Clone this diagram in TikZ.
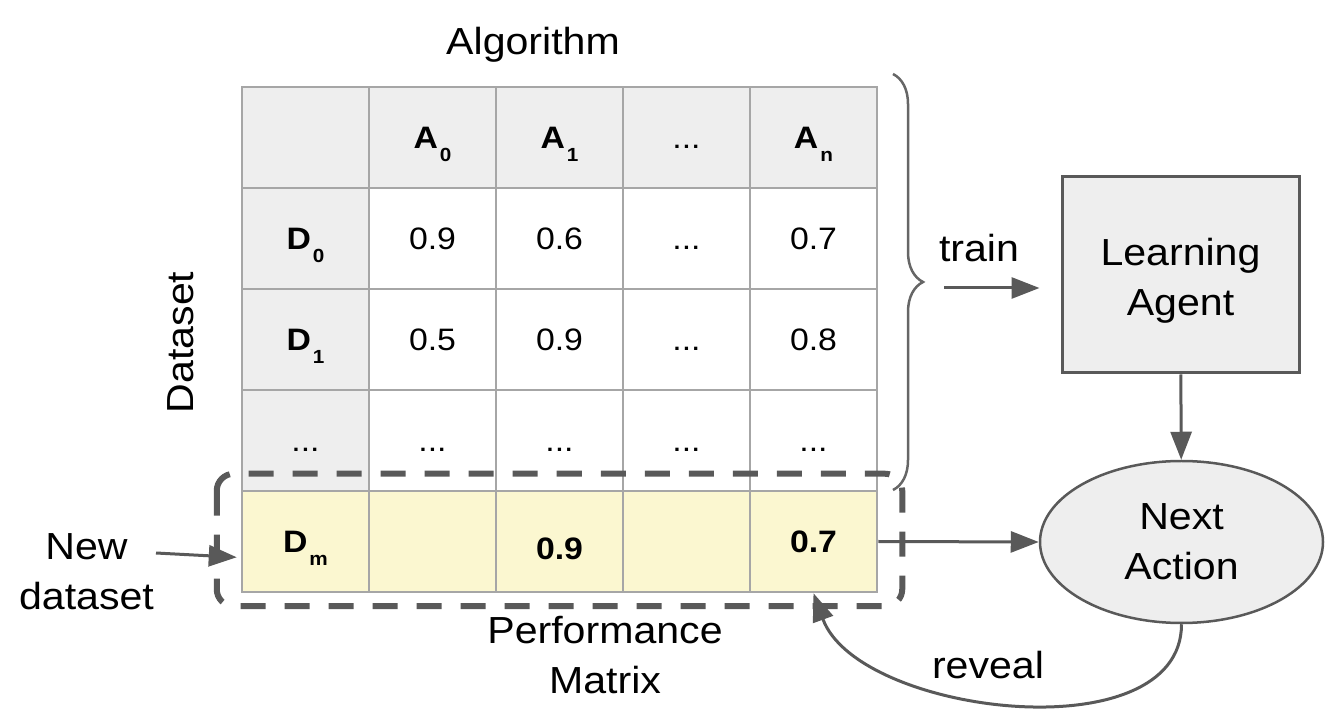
\documentclass[tikz,border=0pt]{standalone}
\usepackage{fontspec}
\setmainfont{Liberation Sans}[FakeStretch=1.09]
\usepackage{tikz}
\usetikzlibrary{arrows.meta,shapes.geometric,positioning,decorations.pathreplacing}
\definecolor{pmgray}{RGB}{238,238,238}
\definecolor{pmyellow}{RGB}{251,247,208}
\definecolor{pmgrid}{RGB}{166,166,166}
\definecolor{pmdark}{RGB}{89,89,89}
\definecolor{pmbrace}{RGB}{102,102,102}
\tikzstyle{arrow} = [line width=3pt,-{Triangle[length=28pt,width=21pt]},color=pmdark]
\tikzstyle{cell} = [draw=pmgrid,line width=2.5pt,minimum width=127pt,minimum height=101pt,inner sep=0pt,text height=22pt,text depth=0pt,font=\fontsize{31}{31}\selectfont]
\tikzstyle{lbl} = [font=\fontsize{37.7}{50}\selectfont,align=center,inner sep=0pt]
\newcommand{\sublabel}[2]{\textbf{#1}\kern2pt\raisebox{-13pt}[0pt][0pt]{\fontsize{19}{19}\selectfont\textbf{#2}}}
\newcommand{\ddd}{...}

\begin{document}
\begin{tikzpicture}[x=1pt,y=1pt]
\useasboundingbox (0,0) rectangle (1336,715);

% Shading
\fill[pmgray] (242,628) rectangle (877,527);
\fill[pmgray] (242,628) rectangle (369,224);
\fill[pmyellow] (242,224) rectangle (877,123);

% Table
\foreach \t [count=\c from 0] in {{}, \sublabel{A}{0}, \sublabel{A}{1}, \ddd, \sublabel{A}{n}}
  \node[cell] (hd-\c) at ({305.5+127*\c},577.5) {\t};
\foreach \t [count=\c from 0] in {\sublabel{D}{0}, 0.9, 0.6, \ddd, 0.7}
  \node[cell] (r0-\c) at ({305.5+127*\c},476.5) {\t};
\foreach \t [count=\c from 0] in {\sublabel{D}{1}, 0.5, 0.9, \ddd, 0.8}
  \node[cell] (r1-\c) at ({305.5+127*\c},375.5) {\t};
\foreach \c in {0,...,4}
  \node[cell] (rd-\c) at ({305.5+127*\c},274.5) {\ddd};
\foreach \t [count=\c from 0] in {\sublabel{D}{m}, {}, \raisebox{-7pt}{\textbf{0.9}}, {}, \textbf{0.7}}
  \node[cell] (rm-\c) at ({305.5+127*\c},173.5) {\t};

% New row
\draw[pmdark,line width=6pt,dash pattern=on 25pt off 19pt,rounded corners=17pt] ([shift={(-24,16)}]rm-0.north west) rectangle ([shift={(24,-13)}]rm-4.south east);

% Labels
\node[lbl,anchor=base] (algo) at (533,660) {Algorithm};
\node[lbl,anchor=base,rotate=90] (dataset) at (193,372.5) {Dataset};
\node[lbl,anchor=base] (newds) at (86.5,105) {New\\dataset};
\node[lbl,anchor=base] (perf) at (605,22) {Performance\\Matrix};
\node[lbl,anchor=base] (train) at (979,453) {train};
\node[lbl,anchor=base] (reveal) at (988,37) {reveal};

% Agent
\node[lbl,draw=pmdark,line width=3pt,fill=pmgray,minimum width=237pt,minimum height=196pt] (agent) at (1180.5,440) {\rule{0pt}{39pt}Learning\\Agent};
\node[lbl,ellipse,draw=pmdark,line width=2.5pt,fill=pmgray,minimum width=283pt,minimum height=162pt] (next) at (1181.5,173) {Next\\Action};

% Brace
\draw[pmbrace,line width=2.5pt,decorate,decoration={brace,amplitude=30pt}] (893,641) -- (893,225);

% Arrows
\coordinate (traintail) at (944,427);
\coordinate (newtail) at (156,162);
\draw[arrow,shorten >=21pt] (traintail) -- (traintail -| agent.west);
\draw[arrow] (agent) -- (next);
\draw[arrow] (rm-4.east) -- (next.west);
\draw[arrow] (next.south) to[out=-90,in=-70,looseness=0.9] (rm-4.south);
\draw[arrow,shorten >=4pt] (newtail) -- ([yshift=-16pt]rm-0.west);
\end{tikzpicture}
\end{document}
